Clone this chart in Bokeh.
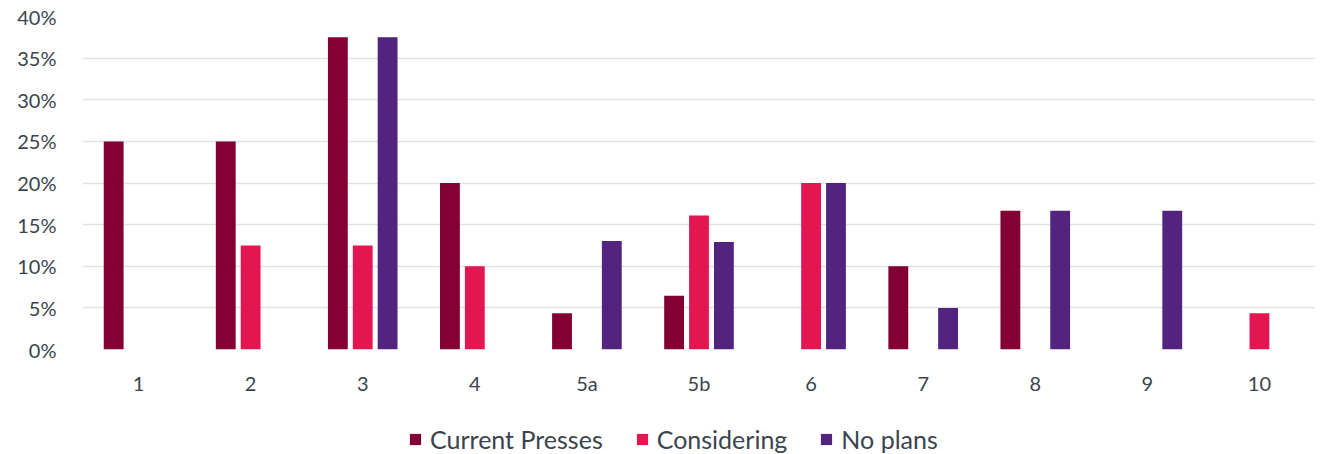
from bokeh.plotting import figure
from bokeh.models import FactorRange, Range1d, NumeralTickFormatter, Legend, LegendItem, ColumnDataSource, FixedTicker
from bokeh.layouts import column
from bokeh.transform import dodge
from bokeh.embed import file_html
from bokeh.resources import INLINE

categories = ["1", "2", "3", "4", "5a", "5b", "6", "7", "8", "9", "10"]
current_presses = [0.25, 0.25, 0.375, 0.20, 0.0435, 0.0645, 0.0, 0.10, 0.1667, 0.0, 0.0]
considering = [0.0, 0.125, 0.125, 0.10, 0.0, 0.161, 0.20, 0.0, 0.0, 0.0, 0.0435]
no_plans = [0.0, 0.0, 0.375, 0.0, 0.1304, 0.129, 0.20, 0.05, 0.1667, 0.1667, 0.0]
y_ticks = [0, 0.05, 0.10, 0.15, 0.20, 0.25, 0.30, 0.35, 0.40]

series = [
    ("Current Presses", current_presses, "#820034", -0.222),
    ("Considering", considering, "#E31651", 0.0),
    ("No plans", no_plans, "#53247F", 0.222),
]

FONT = "Lato"
TEXT = "#3A444D"
W = 1315

p = figure(x_range=FactorRange(*categories), y_range=Range1d(0, 0.40),
           width=W, height=416, output_backend="svg", toolbar_location=None,
           min_border_left=82, min_border_right=0, min_border_top=16, min_border_bottom=67)

for name, vals, color, off in series:
    cats = [c for c, v in zip(categories, vals) if v > 0]
    tops = [v for v in vals if v > 0]
    src = ColumnDataSource(dict(x=cats, top=tops))
    p.vbar(x=dodge("x", off, range=p.x_range), top="top", width=0.177, source=src,
           fill_color=color, line_color=None)

p.yaxis.ticker = FixedTicker(ticks=y_ticks)
p.yaxis.formatter = NumeralTickFormatter(format="0%")
for ax in [p.xaxis[0], p.yaxis[0]]:
    ax.axis_line_color = None
    ax.major_tick_line_color = None
    ax.minor_tick_line_color = None
    ax.major_label_text_font = FONT
    ax.major_label_text_font_size = "20px"
    ax.major_label_text_color = TEXT
p.yaxis.major_label_standoff = 20
p.xaxis.major_label_standoff = 15

p.xgrid.grid_line_color = None
p.ygrid.grid_line_color = "#DDE3E8"
p.ygrid.grid_line_width = 1.5
p.outline_line_color = None
p.x_range.range_padding = 0
p.x_range.group_padding = 0

# legend strip
lf = figure(width=W, height=38, output_backend="svg", toolbar_location=None,
            x_range=Range1d(0, 1), y_range=Range1d(0, 1),
            min_border_left=0, min_border_right=0, min_border_top=0, min_border_bottom=0)
lf.axis.visible = False
lf.grid.visible = False
lf.outline_line_color = None
items = []
for name, vals, color, off in series:
    r = lf.vbar(x=[5], top=[1], width=0.1, fill_color=color, line_color=None)
    items.append(LegendItem(label=name, renderers=[r]))
legend = Legend(items=items, orientation="horizontal", location=(326, 0),
                label_text_font=FONT, label_text_font_size="25px", label_text_color=TEXT,
                glyph_width=14, glyph_height=14, spacing=32, label_standoff=8,
                border_line_color=None, background_fill_alpha=0, margin=0, padding=0)
lf.add_layout(legend, "center")

layout = column(p, lf, spacing=0)
open("out.html", "w").write(file_html(layout, INLINE))
